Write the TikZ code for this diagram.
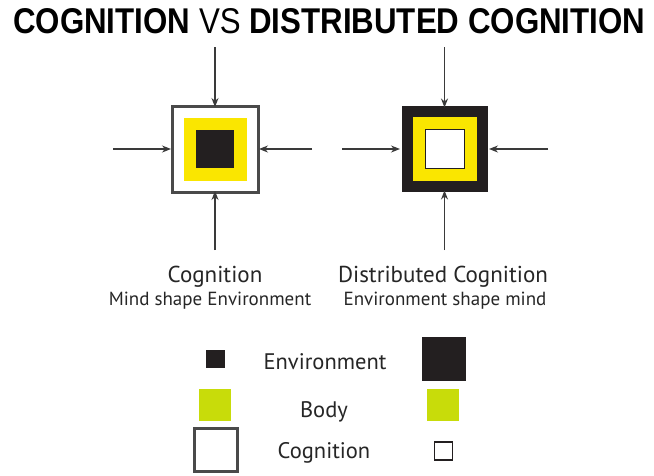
\documentclass[tikz,border=0pt]{standalone}
\usepackage{fontspec}
\setmainfont{PT Sans}
\newfontfamily\titlefont{Liberation Sans}
\usetikzlibrary{arrows.meta}
\definecolor{envblack}{HTML}{231F20}
\definecolor{diagyellow}{HTML}{FAE600}
\definecolor{legyellow}{HTML}{C8DC0A}
\definecolor{cogray}{HTML}{4A4A4A}
\definecolor{arrgray}{HTML}{3A3A3A}
\begin{document}
\begin{tikzpicture}[x=1pt,y=-1pt,
  sq/.style={inner sep=0pt, outer sep=0pt, minimum size=#1},
  arr/.style={draw=arrgray, line width=1.3pt, -{Stealth[length=9pt,width=7pt]}},
  lbl/.style={inner sep=0pt, anchor=base, text=black!85},
]
\useasboundingbox (0,0) rectangle (654,475);
\fill[white] (0,0) rectangle (654,475);
% title
\node[inner sep=0pt, anchor=base west] (title) at (13,33)
  {\resizebox{632pt}{25pt}{\titlefont\bfseries COGNITION \mdseries VS \bfseries DISTRIBUTED COGNITION}};
% left diagram
\node[sq=86pt, draw=cogray, line width=3pt, fill=white] (cogL) at (215,149) {};
\node[sq=63pt, fill=diagyellow] (bodyL) at (215,149) {};
\node[sq=38pt, fill=envblack] (envL) at (215,149) {};
\coordinate (tL) at (215,47);
\coordinate (bL) at (215,250);
\coordinate (lL) at (113,149);
\coordinate (rL) at (312,149);
\draw[arr] (tL) -- ([yshift=-1pt]cogL.north);
\draw[arr] (bL) -- ([yshift=1pt]cogL.south);
\draw[arr] (lL) -- ([xshift=-1pt]cogL.west);
\draw[arr] (rL) -- ([xshift=1pt]cogL.east);
% right diagram
\node[sq=86pt, fill=envblack] (envR) at (444.5,149) {};
\node[sq=64pt, fill=diagyellow] (bodyR) at (444.5,149) {};
\node[sq=39pt, fill=white, draw=envblack, line width=1pt] (cogR) at (444.5,149) {};
\coordinate (tR) at (444.5,47);
\coordinate (bR) at (444.5,250);
\coordinate (lR) at (342,149);
\coordinate (rR) at (548,149);
\draw[arr] (tR) -- ([yshift=-1.5pt]envR.north);
\draw[arr] (bR) -- ([yshift=1.5pt]envR.south);
\draw[arr] (lR) -- ([xshift=-1.5pt]envR.west);
\draw[arr] (rR) -- ([xshift=1.5pt]envR.east);
% captions
\node[lbl, font=\fontsize{23}{26}\selectfont] (capL) at (215,282) {Cognition};
\node[lbl, font=\fontsize{19}{22}\selectfont] (subL) at (210,305) {Mind shape Environment};
\node[lbl, font=\fontsize{23}{26}\selectfont] (capR) at (443,282) {Distributed Cognition};
\node[lbl, font=\fontsize{19}{22}\selectfont] (subR) at (445,305) {Environment shape mind};
% legend
\node[inner sep=0pt, minimum width=19pt, minimum height=18pt, fill=envblack] (legEnvS) at (215.5,359) {};
\node[sq=44pt, fill=envblack] (legEnvB) at (444,359) {};
\node[sq=32pt, fill=legyellow] (legBodyL) at (215,405) {};
\node[sq=32pt, fill=legyellow] (legBodyR) at (443,405) {};
\node[sq=43pt, draw=cogray, line width=3pt, fill=white] (legCogB) at (215.5,450) {};
\node[sq=18pt, draw=envblack, line width=1.2pt, fill=white] (legCogS) at (443.5,451) {};
\node[lbl, font=\fontsize{22.5}{26}\selectfont] (legEnvT) at (325,369) {Environment};
\node[lbl, font=\fontsize{22.5}{26}\selectfont] (legBodyT) at (324,417) {Body};
\node[lbl, font=\fontsize{22.5}{26}\selectfont] (legCogT) at (324,458) {Cognition};
\end{tikzpicture}
\end{document}
